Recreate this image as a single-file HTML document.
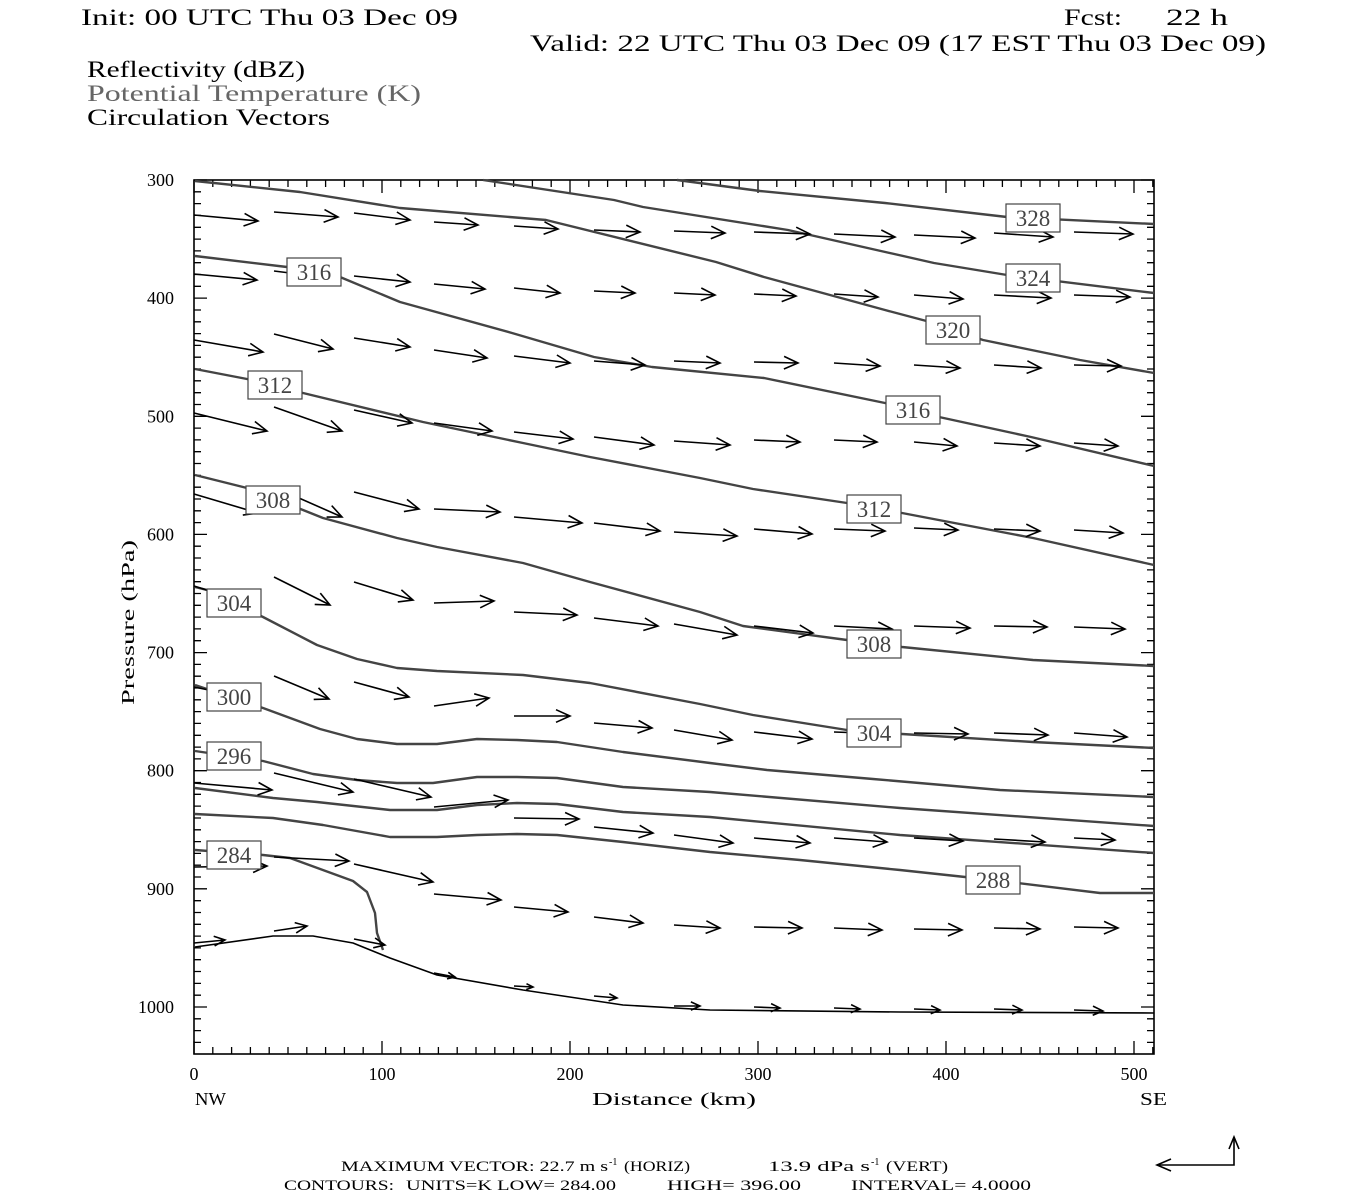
<!DOCTYPE html>
<html><head><meta charset="utf-8"><style>
html,body{margin:0;padding:0;background:#fff;}
svg{display:block;}
text{font-family:"Liberation Serif","DejaVu Serif",serif;}
.m{font-family:"Liberation Mono","DejaVu Sans Mono",monospace;}
</style></head><body>
<svg id="s" width="1350" height="1200" viewBox="0 0 1350 1200" xmlns="http://www.w3.org/2000/svg" xml:space="preserve">
<rect width="1350" height="1200" fill="#fff"/>
<g class="m" font-size="23" fill="#000">
<text x="81" y="25" textLength="377" lengthAdjust="spacingAndGlyphs">Init: 00 UTC Thu 03 Dec 09</text>
<text x="1064" y="25" textLength="58" lengthAdjust="spacingAndGlyphs">Fcst:</text>
<text x="1166" y="25" textLength="62" lengthAdjust="spacingAndGlyphs">22 h</text>
<text x="530" y="51" textLength="736" lengthAdjust="spacingAndGlyphs">Valid: 22 UTC Thu 03 Dec 09 (17 EST Thu 03 Dec 09)</text>
<text x="87" y="77" textLength="218" lengthAdjust="spacingAndGlyphs">Reflectivity (dBZ)</text>
<text x="87" y="101" textLength="334" lengthAdjust="spacingAndGlyphs" fill="#666">Potential Temperature (K)</text>
<text x="87" y="125" textLength="243" lengthAdjust="spacingAndGlyphs">Circulation Vectors</text>
</g>
<g id="ax"></g>
<g id="ct" fill="none" stroke="#444" stroke-width="2.4" stroke-linejoin="round"></g>
<g id="vec" fill="none" stroke="#000" stroke-width="1.6"></g>
<g id="lb"></g>
<g font-size="18" fill="#000">
<text x="592" y="1105" textLength="164" lengthAdjust="spacingAndGlyphs">Distance (km)</text>
<text x="195" y="1105" textLength="31" lengthAdjust="spacingAndGlyphs">NW</text>
<text x="1140" y="1105" textLength="27" lengthAdjust="spacingAndGlyphs">SE</text>
<text transform="translate(134,705) rotate(-90)" textLength="165" lengthAdjust="spacingAndGlyphs">Pressure (hPa)</text>
</g>
<g font-size="15" fill="#000">
<text x="341" y="1171" textLength="267" lengthAdjust="spacingAndGlyphs">MAXIMUM VECTOR:  22.7 m s</text>
<text x="609" y="1165" font-size="10">-1</text>
<text x="624" y="1171" textLength="66" lengthAdjust="spacingAndGlyphs">(HORIZ)</text>
<text x="768" y="1171" textLength="102" lengthAdjust="spacingAndGlyphs">13.9 dPa s</text>
<text x="871" y="1165" font-size="10">-1</text>
<text x="886" y="1171" textLength="62" lengthAdjust="spacingAndGlyphs">(VERT)</text>
<text x="284" y="1190" textLength="110" lengthAdjust="spacingAndGlyphs">CONTOURS:</text>
<text x="406" y="1190" textLength="210" lengthAdjust="spacingAndGlyphs">UNITS=K  LOW=  284.00</text>
<text x="667" y="1190" textLength="134" lengthAdjust="spacingAndGlyphs">HIGH=  396.00</text>
<text x="851" y="1190" textLength="180" lengthAdjust="spacingAndGlyphs">INTERVAL=    4.0000</text>
</g>
<g fill="none" stroke="#000" stroke-width="1.6">
<path d="M1157 1165 H1234 V1137"/>
<path d="M1171 1159 L1157 1165 L1171 1171"/>
<path d="M1229 1149 L1234 1137 L1239 1149"/>
</g>
</svg>
<script>
var NS="http://www.w3.org/2000/svg";
function el(p,t,a,txt){var e=document.createElementNS(NS,t);for(var k in a)e.setAttribute(k,a[k]);if(txt!=null)e.textContent=txt;document.getElementById(p).appendChild(e);return e;}
var X0=194,X1=1154,Y0=180,Y1=1054;
function py(p){return 180+(p-300)*1.1814;}
function px(d){return 194+d*1.88;}
el("ax","rect",{x:X0,y:Y0,width:X1-X0,height:Y1-Y0,fill:"none",stroke:"#000","stroke-width":1.6});
var d="";
for(var p=300;p<=1040;p+=10){var y=py(p);if(y>Y1)break;var L=(p%100==0)?13:7;d+="M"+X0+" "+y.toFixed(1)+"h"+L+"M"+X1+" "+y.toFixed(1)+"h"+(-L);}
for(var k=0;k<=510;k+=10){var x=px(k);if(x>X1)break;var L=(k%100==0)?13:7;d+="M"+x.toFixed(1)+" "+Y1+"v"+(-L)+"M"+x.toFixed(1)+" "+Y0+"v"+L;}
el("ax","path",{d:d,stroke:"#000","stroke-width":1.3,fill:"none"});
for(var p=300;p<=1000;p+=100){el("ax","text",{x:174,y:py(p)+6,"text-anchor":"end","font-size":18},String(p));}
for(var k=0;k<=500;k+=100){el("ax","text",{x:px(k),y:1080,"text-anchor":"middle","font-size":18},String(k));}
var C=[
[[677,180],[760,191],[885,203],[1007,217],[1154,224]],
[[483,180],[614,200],[643,207],[788,230],[934,263],[1007,275],[1154,293]],
[[195,181],[300,192],[400,208],[546,220],[716,262],[764,277],[885,310],[934,323],[983,340],[1080,360],[1154,373]],
[[195,256],[287,267],[340,277],[400,302],[512,333],[594,357],[652,367],[764,378],[885,403],[939,417],[1031,437],[1154,466]],
[[195,369],[247,379],[303,393],[423,422],[523,443],[590,457],[700,478],[753,489],[847,503],[902,513],[1033,538],[1154,565]],
[[195,475],[247,488],[303,510],[323,518],[397,538],[437,547],[523,563],[590,582],[700,612],[743,626],[847,640],[902,647],[1033,660],[1154,666]],
[[195,587],[207,590],[263,617],[317,645],[357,659],[397,668],[437,671],[523,675],[590,683],[700,704],[753,715],[847,730],[902,734],[1033,742],[1154,748]],
[[195,685],[263,708],[320,729],[357,739],[397,744],[437,744],[477,739],[517,740],[557,742],[623,752],[710,763],[767,770],[873,779],[1000,790],[1154,797]],
[[195,751],[263,761],[313,774],[357,780],[397,783],[433,783],[477,777],[517,777],[557,778],[623,787],[710,792],[900,808],[1154,826]],
[[195,788],[273,798],[317,802],[390,810],[437,810],[477,805],[517,803],[557,804],[623,812],[710,817],[900,835],[1154,853]],
[[195,814],[273,818],[323,825],[390,837],[437,837],[477,835],[517,834],[557,835],[623,842],[710,852],[800,860],[900,870],[993,880],[1100,893],[1154,893]],
[[195,850],[263,855],[290,858],[353,881],[367,892],[375,913],[377,933],[383,950]]
];
C.forEach(function(c){var s="M"+c.map(function(q){return q[0]+" "+q[1];}).join("L");el("ct","path",{d:s});});
el("ct","path",{d:"M195 947L273 936L313 936L353 943L390 958L437 975L523 990L623 1005L710 1010L900 1012L1154 1013",stroke:"#000","stroke-width":1.6});
var V=[
[194,215,258,221],[274,212,338,217],[354,213,410,220],[434,222,478,225],[514,226,558,229],[594,230,640,232],[674,231,725,233],[754,232,810,234],[834,234,895,237],[914,235,975,238],[994,233,1053,237],[1074,232,1133,234],
[194,274,257,280],[274,271,338,279],[354,276,410,282],[434,284,485,289],[514,288,560,293],[594,291,635,293],[674,293,715,295],[754,294,796,296],[834,294,878,297],[914,295,963,299],[994,295,1051,298],[1074,295,1130,297],
[194,340,263,352],[274,334,333,349],[354,338,410,347],[434,350,487,358],[514,356,570,363],[594,361,645,365],[674,361,720,363],[754,362,798,363],[834,363,880,366],[914,365,960,368],[994,365,1041,368],[1074,365,1121,366],
[194,413,267,431],[274,407,342,431],[354,410,412,423],[434,423,492,431],[514,432,573,439],[594,437,654,445],[674,441,730,445],[754,440,800,442],[834,440,877,442],[914,442,957,446],[994,443,1040,446],[1074,443,1118,446],
[194,494,258,513],[274,487,342,517],[354,492,419,509],[434,509,500,512],[514,517,582,523],[594,523,660,531],[674,532,737,536],[754,529,812,534],[834,529,885,531],[914,528,958,530],[994,529,1040,531],[1074,530,1123,533],
[194,586,245,602],[274,577,330,605],[354,582,413,600],[434,603,494,601],[514,612,577,615],[594,618,658,626],[674,624,737,635],[754,626,813,633],[834,626,892,629],[914,626,970,628],[994,626,1047,627],[1074,627,1125,629],
[194,687,248,698],[274,676,329,699],[354,682,409,697],[434,706,489,698],[514,716,570,716],[594,723,652,728],[674,730,732,740],[754,732,812,739],[834,732,892,734],[914,733,968,734],[994,733,1048,735],[1074,733,1127,737],
[194,783,272,790],[274,773,353,792],[354,779,431,797],[434,807,508,800],[514,818,579,819],[594,827,653,833],[674,835,733,843],[754,838,810,843],[834,838,887,842],[914,838,963,841],[994,839,1045,842],[1074,838,1115,840],
[194,867,267,866],[274,857,349,861],[354,864,433,882],[434,894,501,900],[514,907,568,912],[594,917,643,923],[674,925,720,928],[754,927,802,928],[834,928,882,930],[914,929,962,930],[994,928,1040,929],[1074,927,1118,928],
[194,943,225,940],[274,931,307,926],[354,939,385,945],[434,973,455,977],[514,986,533,987],[594,996,617,998],[674,1006,700,1006],[754,1007,780,1008],[834,1008,860,1009],[914,1009,940,1010],[994,1009,1022,1010],[1074,1010,1103,1011]
];
V.forEach(function(v){
 var dx=v[2]-v[0],dy=v[3]-v[1],l=Math.sqrt(dx*dx+dy*dy),ux=dx/l,uy=dy/l;
 var h=Math.min(14,l*0.35),w=h*0.45;
 var bx=v[2]-ux*h,by=v[3]-uy*h;
 var s="M"+v[0]+" "+v[1]+"L"+v[2]+" "+v[3]+"M"+(bx-uy*w).toFixed(1)+" "+(by+ux*w).toFixed(1)+"L"+v[2]+" "+v[3]+"L"+(bx+uy*w).toFixed(1)+" "+(by-ux*w).toFixed(1);
 el("vec","path",{d:s});
});
var LB=[[1033,218,"328"],[1033,278,"324"],[953,330,"320"],[314,272,"316"],[913,410,"316"],[275,385,"312"],[874,509,"312"],[273,500,"308"],[874,644,"308"],[234,603,"304"],[874,733,"304"],[234,697,"300"],[234,756,"296"],[993,880,"288"],[234,855,"284"]];
LB.forEach(function(b){
 el("lb","rect",{x:b[0]-27,y:b[1]-14,width:54,height:28,fill:"#fff",stroke:"#444","stroke-width":1.2});
 el("lb","text",{x:b[0],y:b[1]+8,"text-anchor":"middle","font-size":23,fill:"#444"},b[2]);
});
</script>
</body></html>
